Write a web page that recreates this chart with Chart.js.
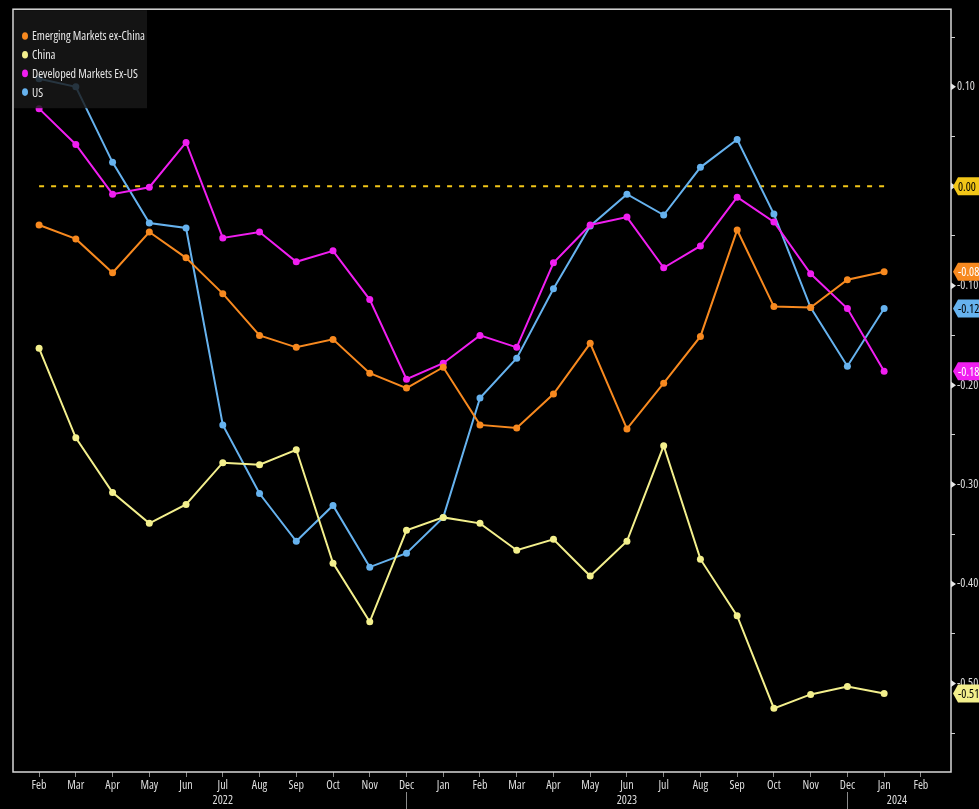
<!DOCTYPE html>
<html>
<head>
<meta charset="utf-8">
<script src="https://cdn.jsdelivr.net/npm/chart.js@4.4.1/dist/chart.umd.min.js"></script>
<style>
  html, body { margin: 0; padding: 0; background: #000; }
  canvas { display: block; }
</style>
</head>
<body>
<canvas id="chart" width="979" height="809"></canvas>
<script>
// month ticks, Feb 2022 .. Feb 2024
const months = ['Feb','Mar','Apr','May','Jun','Jul','Aug','Sep','Oct','Nov','Dec','Jan',
                'Feb','Mar','Apr','May','Jun','Jul','Aug','Sep','Oct','Nov','Dec','Jan','Feb'];
const years = ['2022', '2023', '2024'];
const yearPos = [5, 16, 23.35];     // tick index under which the year sits
const yearBreaks = [10, 22];        // separators under Dec

const emExChina = [-0.039,-0.053,-0.087,-0.046,-0.072,-0.108,-0.150,-0.162,-0.154,-0.188,-0.203,-0.182,
                   -0.240,-0.243,-0.209,-0.158,-0.244,-0.198,-0.151,-0.044,-0.121,-0.122,-0.094,-0.086];
const china = [-0.163,-0.253,-0.308,-0.339,-0.320,-0.278,-0.280,-0.265,-0.379,-0.438,-0.346,-0.333,
               -0.339,-0.366,-0.355,-0.392,-0.357,-0.261,-0.375,-0.432,-0.525,-0.511,-0.503,-0.51];
const dmExUs = [0.078,0.042,-0.008,-0.001,0.044,-0.052,-0.046,-0.076,-0.065,-0.114,-0.194,-0.178,
                -0.150,-0.162,-0.077,-0.039,-0.031,-0.082,-0.060,-0.011,-0.036,-0.088,-0.123,-0.186];
const us = [0.108,0.100,0.024,-0.037,-0.042,-0.240,-0.309,-0.357,-0.321,-0.383,-0.369,-0.333,
            -0.213,-0.173,-0.103,-0.040,-0.008,-0.029,0.019,0.047,-0.028,-0.122,-0.181,-0.123];
const zeroLine = [0,0,0,0,0,0,0,0,0,0,0,0,0,0,0,0,0,0,0,0,0,0,0,0];

const FAMILY = '"Open Sans", "Roboto", sans-serif';
const CFONT = 'condensed 12px ' + FAMILY;

function pts(arr) {
    return arr.map((v, i) => ({ x: i, y: v }));
}

function series(label, data, color, tagText) {
    return {
        label: label,
        data: pts(data),
        borderColor: color,
        backgroundColor: color,
        borderWidth: 2,
        pointRadius: 3.5,
        pointHoverRadius: 3.5,
        pointBorderWidth: 0,
        tagText: tagText
    };
}

const datasets = [
    series('Emerging Markets ex-China', emExChina, '#f7891f', '#fff'),
    series('China', china, '#f3ef8c', '#000'),
    series('Developed Markets Ex-US', dmExUs, '#f01ef0', '#fff'),
    series('US', us, '#66b2ee', '#000'),
    {
        label: '',
        data: pts(zeroLine),
        borderColor: '#f2c618',
        backgroundColor: '#f2c618',
        borderWidth: 2,
        borderDash: [5, 7],
        pointRadius: 0,
        tagText: '#000',
        isRef: true
    }
];

// frame, legend, right-hand value tags, year labels
const decorations = {
    id: 'decorations',
    afterDatasetsDraw(chart) {
        const ctx = chart.ctx;
        const area = chart.chartArea;
        // legend box sits over the lines
        ctx.save();
        ctx.fillStyle = 'rgba(24,24,24,0.82)';
        ctx.fillRect(area.left + 1, area.top + 1, 133, 98);
        ctx.font = CFONT;
        ctx.textBaseline = 'middle';
        chart.data.datasets.forEach((ds, i) => {
            if (ds.isRef) return;
            const y = 36 + i * 18.7;
            ctx.fillStyle = ds.borderColor;
            ctx.beginPath();
            ctx.ellipse(area.left + 12, y, 3, 3.8, 0, 0, Math.PI * 2);
            ctx.fill();
            ctx.fillStyle = '#e6e6e6';
            ctx.fillText(ds.label, area.left + 19, y + 1);
        });
        ctx.restore();
    },
    afterDraw(chart) {
        const ctx = chart.ctx;
        const area = chart.chartArea;
        const xs = chart.scales.x;
        const ys = chart.scales.y;
        ctx.save();
        // frame
        ctx.strokeStyle = '#d8d8d8';
        ctx.lineWidth = 1.5;
        ctx.strokeRect(area.left, area.top, area.right - area.left, area.bottom - area.top);

        // little triangles on the major y ticks
        ctx.fillStyle = '#e6e6e6';
        ys.ticks.forEach(t => {
            if (Math.abs(t.value * 10 - Math.round(t.value * 10)) > 1e-6) return;
            const y = ys.getPixelForValue(t.value);
            ctx.beginPath();
            ctx.moveTo(area.right, y - 3.5);
            ctx.lineTo(area.right + 5, y);
            ctx.lineTo(area.right, y + 3.5);
            ctx.closePath();
            ctx.fill();
        });

        // value tags
        ctx.font = CFONT;
        ctx.textBaseline = 'middle';
        chart.data.datasets.slice().reverse().forEach(ds => {
            const last = ds.data[ds.data.length - 1].y;
            const y = ys.getPixelForValue(last);
            const x0 = area.right + 2;
            ctx.fillStyle = ds.borderColor;
            ctx.beginPath();
            ctx.moveTo(x0, y);
            ctx.lineTo(x0 + 5, y - 9);
            ctx.lineTo(chart.width + 2, y - 9);
            ctx.lineTo(chart.width + 2, y + 9);
            ctx.lineTo(x0 + 5, y + 9);
            ctx.closePath();
            ctx.fill();
            ctx.fillStyle = ds.tagText;
            const txt = last === 0 ? '0.00' : String(last);
            ctx.fillText(txt, x0 + 5, y + 1);
        });

        // year labels and separators
        ctx.fillStyle = '#dcdcdc';
        ctx.textAlign = 'center';
        ctx.textBaseline = 'middle';
        years.forEach((yr, i) => {
            ctx.fillText(yr, xs.getPixelForValue(yearPos[i]), 801);
        });
        ctx.strokeStyle = '#8a8a8a';
        ctx.lineWidth = 1;
        yearBreaks.forEach(v => {
            const x = Math.round(xs.getPixelForValue(v)) + 0.5;
            ctx.beginPath();
            ctx.moveTo(x, 792);
            ctx.lineTo(x, chart.height);
            ctx.stroke();
        });
        ctx.restore();
    }
};

// weight slot carries the font-stretch keyword: "normal condensed 12px ..."
const tickFont = { family: FAMILY, size: 12, weight: 'condensed' };

new Chart(document.getElementById('chart'), {
    type: 'line',
    data: { datasets: datasets },
    plugins: [decorations],
    options: {
        responsive: false,
        devicePixelRatio: 1,
        animation: false,
        layout: { padding: { left: 13, top: 8, right: 0, bottom: 0 } },
        plugins: {
            legend: { display: false },
            tooltip: { enabled: false }
        },
        scales: {
            x: {
                type: 'linear',
                min: -0.71,
                max: 24.82,
                afterFit: (scale) => { scale.height = 37; },
                border: { display: false },
                grid: { drawOnChartArea: false, tickLength: 5, color: '#888' },
                ticks: {
                    stepSize: 1,
                    autoSkip: false,
                    maxRotation: 0,
                    includeBounds: false,
                    padding: 1,
                    color: '#dcdcdc',
                    font: tickFont,
                    callback: (v) => Number.isInteger(v) ? months[v] : ''
                }
            },
            y: {
                position: 'right',
                min: -0.589,
                max: 0.178,
                afterFit: (scale) => { scale.width = 28; },
                border: { display: false },
                grid: { drawOnChartArea: false, tickLength: 4, color: '#cfcfcf' },
                ticks: {
                    stepSize: 0.05,
                    includeBounds: false,
                    padding: 2,
                    color: '#dcdcdc',
                    font: tickFont,
                    callback: (v) => Math.abs(v * 10 - Math.round(v * 10)) < 1e-6 ? v.toFixed(2) : ''
                }
            }
        }
    }
});
</script>
</body>
</html>
